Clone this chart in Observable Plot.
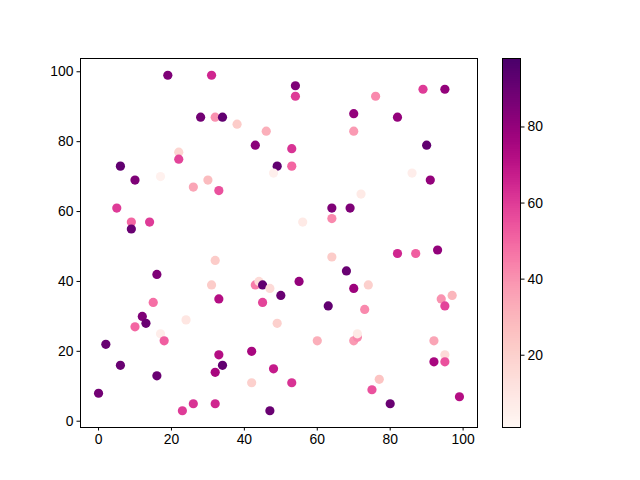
<!DOCTYPE html>
<html><head><meta charset="utf-8">
<script src="https://cdn.jsdelivr.net/npm/d3@7"></script>
<script src="https://cdn.jsdelivr.net/npm/@observablehq/plot@0.6"></script>
<style>
body{margin:0;background:#fff;}
#wrap{position:relative;width:640px;height:480px;}
#wrap svg{position:absolute;top:0;}
</style></head><body><div id="wrap"></div>
<script>
const xs = [19,31,28,32,34,38,46,43,49,48,6,10,17,22,22,26,30,33,5,9,9,14,54,54,76,89,95,70,70,82,90,91,86,53,53,72,64,69,64,56,32,16,31,43,44,45,47,50,15,33,45,12,13,10,17,18,24,49,2,6,16,0,33,34,32,42,48,42,47,23,26,32,64,82,87,93,68,55,70,74,63,73,94,97,95,60,70,71,71,92,95,92,95,53,77,75,80,99];
const ys = [99,99,87,87,87,85,83,79,73,71,73,69,70,77,75,67,69,66,61,57,55,57,96,93,93,95,95,88,83,87,79,69,71,78,73,65,61,61,58,57,46,42,39,39,40,39,38,36,34,35,34,30,28,27,25,23,29,28,22,16,13,8,19,16,14,20,15,11,3,3,5,5,47,48,48,49,43,40,38,39,33,32,35,36,33,23,23,24,25,23,19,17,17,11,12,9,5,7];
const cs = [85,65,88,40,92,22,32,82,92,5,92,85,4,18,58,35,28,55,60,50,90,60,85,60,42,60,80,80,38,80,92,80,6,62,50,8,85,85,42,8,22,85,22,45,15,92,15,90,48,72,58,85,90,50,6,52,10,20,90,90,90,88,72,92,75,75,68,20,90,60,62,65,22,65,52,80,90,80,78,20,92,42,40,30,58,32,38,42,8,35,15,75,55,62,25,55,90,72];
const xyTicks = [0,20,40,60,80,100];
const cTicks = [20,40,60,80];
const cDomain = [1,98];

const data = xs.map((x,i)=>({x, y: ys[i], c: cs[i]}));
const font = "'Liberation Sans', Arial, sans-serif";

const main = Plot.plot({
  width: 640, height: 480,
  marginLeft: 80, marginRight: 163, marginTop: 58, marginBottom: 53,
  style: {fontFamily: font, fontSize: "13.9px", color: "#000", background: "transparent"},
  x: {domain: [-4.95, 103.95], ticks: xyTicks, tickSize: 3.5, label: null, tickPadding: 3.5},
  y: {domain: [-1.8, 103.8], ticks: xyTicks, tickSize: 3.5, label: null, tickPadding: 3.5},
  color: {type: "linear", scheme: "rdpu", domain: cDomain},
  marks: [
    Plot.dot(data, {x: "x", y: "y", fill: "c", r: 4.6, stroke: null}),
    Plot.frame({stroke: "#000", strokeWidth: 1})
  ]
});

const steps = d3.range(cDomain[0], cDomain[1], 0.5).map(v => ({v0: v, v1: Math.min(v + 0.5, cDomain[1])}));
const bar = Plot.plot({
  width: 160, height: 480,
  marginLeft: 22, marginRight: 120, marginTop: 58, marginBottom: 53,
  style: {fontFamily: font, fontSize: "13.9px", color: "#000", background: "transparent"},
  x: {domain: [0,1], axis: null},
  y: {domain: cDomain, ticks: cTicks, tickSize: 3.5, label: null, axis: "right", tickPadding: 3.5},
  color: {type: "linear", scheme: "rdpu", domain: cDomain},
  marks: [
    Plot.rect(steps, {x1: 0, x2: 1, y1: "v0", y2: "v1", fill: d => (d.v0 + d.v1) / 2, inset: 0, shapeRendering: "crispEdges"}),
    Plot.frame({stroke: "#000", strokeWidth: 1})
  ]
});
bar.style.left = "480px";
main.style.left = "0px";
document.getElementById("wrap").append(main, bar);
</script></body></html>
